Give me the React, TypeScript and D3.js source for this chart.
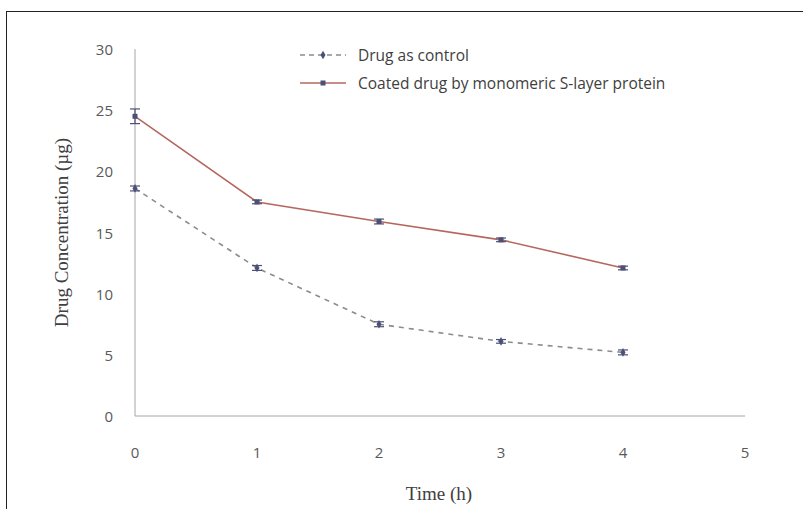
import * as d3 from 'd3';

interface Point {
  t: number;
  v: number;
  err: number;
}

// values
const times = [0, 1, 2, 3, 4];
const controlValues = [18.6, 12.1, 7.5, 6.1, 5.2];
const controlErrors = [0.2, 0.2, 0.2, 0.15, 0.2];
const coatedValues = [24.5, 17.5, 15.9, 14.4, 12.1];
const coatedErrors = [0.6, 0.15, 0.2, 0.15, 0.15];
const xTicks = [0, 1, 2, 3, 4, 5];
const yTicks = [0, 5, 10, 15, 20, 25, 30];
const legendLabels = ['Drug as control', 'Coated drug  by monomeric S-layer protein'];

const W = 803;
const H = 509;

export default function App() {
  const x = d3.scaleLinear().domain([0, 5]).range([135, 745]);
  const y = d3.scaleLinear().domain([0, 30]).range([416, 49]);

  const control: Point[] = times.map((t, i) => ({ t, v: controlValues[i], err: controlErrors[i] }));
  const coated: Point[] = times.map((t, i) => ({ t, v: coatedValues[i], err: coatedErrors[i] }));

  const line = d3
    .line<Point>()
    .x(d => x(d.t))
    .y(d => y(d.v));

  const tickFont = '"Open Sans", "Noto Sans", sans-serif';
  const titleFont = '"Liberation Serif", "DejaVu Serif", serif';
  const markerColor = '#4b5078';

  const errorBars = (pts: Point[], key: string) =>
    pts.map((d, i) => {
      const cx = x(d.t);
      const top = y(d.v + d.err);
      const bot = y(d.v - d.err);
      return (
        <g key={key + i} stroke={markerColor} strokeWidth={1.2}>
          <line x1={cx} x2={cx} y1={top} y2={bot} />
          <line x1={cx - 5} x2={cx + 5} y1={top} y2={top} />
          <line x1={cx - 5} x2={cx + 5} y1={bot} y2={bot} />
        </g>
      );
    });

  return (
    <div style={{ position: 'fixed', left: 0, top: 0 }}>
      <svg width={W} height={H} style={{ display: 'block', background: '#fff' }}>
        {/* outer frame */}
        <rect x={6.5} y={11.5} width={W} height={H} fill="none" stroke="#222" strokeWidth={1} />

        {/* axes */}
        <line x1={x(0)} x2={x(0)} y1={y(30)} y2={y(0)} stroke="#a6a6a6" strokeWidth={1} />
        <line x1={x(0)} x2={x(5)} y1={y(0)} y2={y(0)} stroke="#a6a6a6" strokeWidth={1} />

        {yTicks.map(t => (
          <text
            key={'y' + t}
            x={113}
            y={y(t)}
            textAnchor="end"
            dominantBaseline="central"
            fontFamily={tickFont}
            fontSize={15}
            fill="#595959"
          >
            {t}
          </text>
        ))}
        {xTicks.map(t => (
          <text
            key={'x' + t}
            x={x(t)}
            y={452}
            textAnchor="middle"
            dominantBaseline="central"
            fontFamily={tickFont}
            fontSize={15}
            fill="#595959"
          >
            {t}
          </text>
        ))}

        <text
          x={439}
          y={500}
          textAnchor="middle"
          fontFamily={titleFont}
          fontSize={19}
          fill="#404040"
        >
          Time (h)
        </text>
        <text
          transform={`translate(68,${y(15)}) rotate(-90)`}
          textAnchor="middle"
          fontFamily={titleFont}
          fontSize={19}
          fill="#404040"
        >
          Drug Concentration (µg)
        </text>

        {/* series */}
        <path d={line(control) || ''} fill="none" stroke="#8c8c8c" strokeWidth={1.6} strokeDasharray="5,5" />
        <path d={line(coated) || ''} fill="none" stroke="#b5675f" strokeWidth={1.6} />

        {errorBars(control, 'c')}
        {errorBars(coated, 'p')}

        {control.map((d, i) => (
          <path
            key={'cm' + i}
            d={d3.symbol(d3.symbolDiamond, 22)() || ''}
            transform={`translate(${x(d.t)},${y(d.v)})`}
            fill={markerColor}
          />
        ))}
        {coated.map((d, i) => (
          <rect key={'pm' + i} x={x(d.t) - 2.5} y={y(d.v) - 2.5} width={5} height={5} fill={markerColor} />
        ))}

        {/* legend */}
        <g>
          <line x1={300} x2={346} y1={55} y2={55} stroke="#8c8c8c" strokeWidth={1.6} strokeDasharray="5,4" />
          <path d={d3.symbol(d3.symbolDiamond, 22)() || ''} transform="translate(323,55)" fill={markerColor} />
          <text x={358} y={55} dominantBaseline="central" fontFamily={tickFont} fontSize={15.5} fill="#404040">
            {legendLabels[0]}
          </text>
          <line x1={300} x2={346} y1={83} y2={83} stroke="#b5675f" strokeWidth={1.6} />
          <rect x={320.5} y={80.5} width={5} height={5} fill={markerColor} />
          <text x={358} y={83} dominantBaseline="central" fontFamily={tickFont} fontSize={15.5} fill="#404040">
            {legendLabels[1]}
          </text>
        </g>
      </svg>
    </div>
  );
}
